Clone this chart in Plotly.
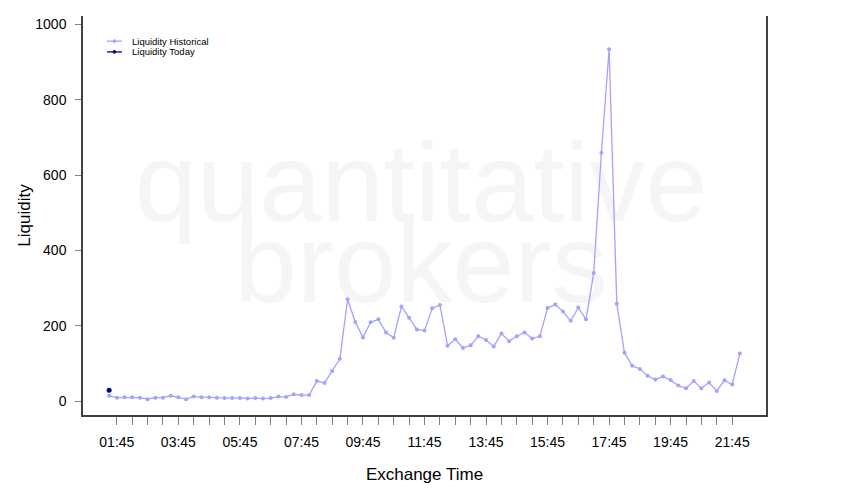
import pandas as pd
import plotly.graph_objects as go

# 15-minute buckets, 01:30 -> 22:00
start_time = "2024-01-01 01:30"
liquidity_historical = [
    14, 9, 10, 10, 9, 5, 9, 9, 14, 10, 5, 12, 10, 10, 9, 8,
    8, 8, 7, 8, 7, 8, 12, 11, 18, 16, 16, 53, 48, 80, 112, 270,
    210, 169, 209, 217, 182, 168, 251, 221, 190, 187, 246, 255, 147, 164,
    141, 148, 172, 162, 145, 179, 159, 172, 182, 166, 172, 247, 256, 238,
    213, 248, 217, 340, 659, 934, 258, 128, 94, 85, 67, 57, 65, 56,
    41, 34, 53, 34, 49, 27, 55, 44, 126,
]
liquidity_today = [29]

tick_labels = ["01:45", "03:45", "05:45", "07:45", "09:45", "11:45",
               "13:45", "15:45", "17:45", "19:45", "21:45"]

times = pd.date_range(start_time, periods=len(liquidity_historical), freq="15min")
tickvals = pd.date_range("2024-01-01 01:45", "2024-01-01 21:45", freq="30min")
ticktext = []
for i in range(len(tickvals)):
    ticktext.append(tick_labels[i // 4] if i % 4 == 0 else "")

HIST_COLOR = "#a3a3ff"
TODAY_COLOR = "#00008b"
FONT = "Liberation Sans, Arial, sans-serif"

fig = go.Figure()
fig.add_trace(go.Scatter(
    x=times, y=liquidity_historical, mode="lines+markers",
    name="Liquidity Historical",
    line=dict(color=HIST_COLOR, width=1.3),
    marker=dict(color=HIST_COLOR, size=4),
))
fig.add_trace(go.Scatter(
    x=times[:len(liquidity_today)], y=liquidity_today, mode="lines+markers",
    name="Liquidity Today",
    line=dict(color=TODAY_COLOR, width=1.3),
    marker=dict(color=TODAY_COLOR, size=5),
))

# watermark, drawn beneath the data
for txt, yc in [("quantitative", 0.61), ("brokers", 0.408)]:
    fig.add_shape(
        type="rect", xref="paper", yref="paper",
        x0=0.0, x1=0.99, y0=yc - 0.1, y1=yc + 0.1,
        line=dict(width=0), fillcolor="rgba(0,0,0,0)", layer="below",
        label=dict(text=txt, textposition="middle center",
                   font=dict(family=FONT, size=112, color="#f5f5f5")),
    )

# hand-made compact legend (lattice style)
legend_rows = [("Liquidity Historical", HIST_COLOR, 0.937),
               ("Liquidity Today", TODAY_COLOR, 0.91)]
for name, col, yy in legend_rows:
    fig.add_shape(type="line", xref="paper", yref="paper",
                  x0=0.035, x1=0.057, y0=yy, y1=yy,
                  line=dict(color=col, width=1.3))
    fig.add_shape(type="circle", xref="paper", yref="paper",
                  x0=0.0435, x1=0.0485, y0=yy - 0.0045, y1=yy + 0.0045,
                  line=dict(color=col, width=0), fillcolor=col)
    fig.add_annotation(text=name, xref="paper", yref="paper",
                       x=0.069, y=yy, xanchor="left", yanchor="middle",
                       showarrow=False,
                       font=dict(family=FONT, size=9.5, color="#000000"))

# the page body adds an 8px offset, so margins are trimmed to match
fig.update_layout(
    width=850, height=500,
    margin=dict(l=75, r=92, t=8, b=93),
    paper_bgcolor="white", plot_bgcolor="white",
    showlegend=False,
    font=dict(family=FONT, size=14, color="#000000"),
)
fig.update_xaxes(
    range=["2024-01-01 00:39", "2024-01-01 22:51"],
    tickvals=tickvals, ticktext=ticktext,
    ticks="outside", ticklen=8, tickcolor="#808080", tickwidth=1,
    showline=True, linecolor="#404040", linewidth=1.5,
    showgrid=False, zeroline=False, automargin=False,
    title=dict(text="Exchange Time", standoff=20),
    ticklabelstandoff=5,
)
fig.update_yaxes(
    range=[-37, 1022],
    tickvals=[0, 200, 400, 600, 800, 1000],
    ticks="outside", ticklen=6, tickcolor="#808080", tickwidth=1,
    showline=True, mirror=True, linecolor="#404040", linewidth=1.5,
    showgrid=False, zeroline=False, automargin=False,
    title=dict(text="Liquidity", standoff=0),
    ticklabelstandoff=6,
)

fig.write_html("out.html")
